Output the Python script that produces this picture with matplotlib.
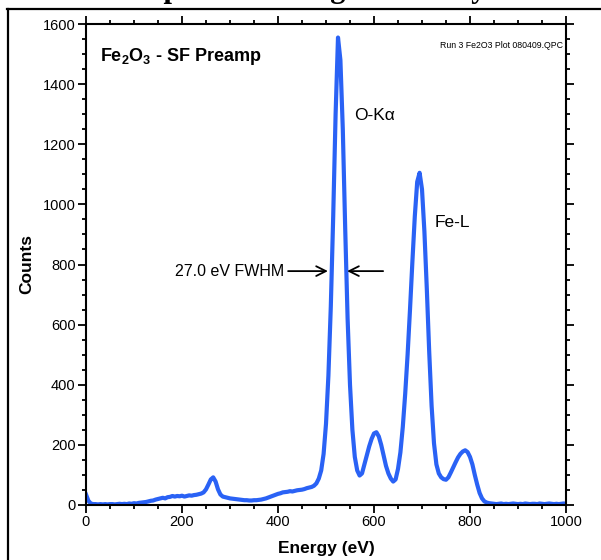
import matplotlib
matplotlib.use("Agg")
import matplotlib.pyplot as plt
from matplotlib.lines import Line2D
from matplotlib.ticker import MultipleLocator

plt.rcParams['font.family'] = ['Liberation Sans', 'DejaVu Sans']
plt.rcParams['mathtext.fontset'] = 'custom'
plt.rcParams['mathtext.rm'] = 'Liberation Sans'
plt.rcParams['mathtext.bf'] = 'Liberation Sans:bold'

# spectrum, 5 eV per point
energy = list(range(0, 1001, 5))
counts = [
    35, 14, 5, 3, 3, 2, 3, 2, 3, 2,            # 0-45
    3, 3, 2, 3, 4, 3, 4, 3, 5, 4,              # 50-95
    6, 5, 7, 8, 9, 10, 12, 14, 15, 18,         # 100-145
    20, 22, 24, 22, 26, 27, 30, 28, 30, 29,    # 150-195
    31, 28, 30, 32, 31, 33, 34, 36, 38, 42,    # 200-245
    52, 68, 85, 92, 78, 52, 35, 28, 26, 24,    # 250-295
    22, 21, 20, 19, 18, 17, 16, 16, 15, 15,    # 300-345
    16, 16, 17, 18, 20, 22, 25, 28, 31, 34,    # 350-395
    37, 39, 42, 43, 44, 46, 45, 47, 49, 50,    # 400-445
    51, 53, 56, 58, 60, 64, 72, 88, 115, 170,  # 450-495
    270, 430, 660, 960, 1300, 1555, 1480, 1250, 920, 620,   # 500-545
    400, 250, 160, 115, 98, 105, 135, 165, 195, 220,        # 550-595
    238, 242, 228, 200, 165, 130, 105, 88, 78, 85,          # 600-645
    120, 175, 260, 370, 500, 650, 810, 960, 1075, 1105,     # 650-695
    1050, 910, 720, 510, 330, 205, 135, 105, 92, 86,        # 700-745
    84, 92, 108, 125, 142, 158, 170, 178, 182, 176,         # 750-795
    160, 135, 100, 68, 40, 22, 12, 8, 6, 5,                 # 800-845
    4, 3, 4, 5, 3, 4, 3, 4, 5, 4,              # 850-895
    3, 4, 3, 5, 4, 3, 4, 4, 3, 5,              # 900-945
    4, 3, 4, 5, 4, 3, 4, 3, 4, 5,              # 950-995
    4,                                         # 1000
]

title = "Example data using new array"
label = r"$\mathbf{Fe_2O_3}$ - SF Preamp"
run_note = "Run 3 Fe2O3 Plot 080409.QPC"


def px_x(px):
    return px / 601.0


def px_y(py):
    return 1.0 - py / 560.0


fig = plt.figure(figsize=(6.01, 5.60), dpi=100)
ax = fig.add_axes([px_x(86), px_y(505), 480 / 601.0, 481 / 560.0])

ax.plot(energy, counts, color='#2a62f5', lw=3.0, solid_joinstyle='round')

ax.set_xlim(0, 1000)
ax.set_ylim(0, 1600)
ax.xaxis.set_major_locator(MultipleLocator(200))
ax.xaxis.set_minor_locator(MultipleLocator(50))
ax.yaxis.set_major_locator(MultipleLocator(200))
ax.yaxis.set_minor_locator(MultipleLocator(50))
ax.tick_params(which='both', direction='out', top=True, right=True,
               width=1.3, labelsize=10.5, colors='black')
ax.tick_params(which='major', length=5.5, pad=2)
ax.tick_params(which='minor', length=3)
for sp in ax.spines.values():
    sp.set_linewidth(1.5)

ax.set_xlabel("Energy (eV)", fontsize=12.5, fontweight='bold')
ax.set_ylabel("Counts", fontsize=12.5, fontweight='bold')
ax.xaxis.set_label_coords(0.5, -0.075)
ax.yaxis.set_label_coords(-0.107, 0.5)

ax.text(0.03, 0.955, label, transform=ax.transAxes, fontsize=13,
        fontweight='bold', ha='left', va='top')
ax.text(0.993, 0.965, run_note, transform=ax.transAxes, fontsize=6.3,
        ha='right', va='top')
ax.text(558, 1297, "O-K\u03b1", fontsize=12.5, ha='left', va='center')
ax.text(727, 941, "Fe-L", fontsize=12.5, ha='left', va='center')

ax.text(414, 778, "27.0 eV FWHM", fontsize=11.5, ha='right', va='center')
arrow = dict(arrowstyle='->,head_length=0.7,head_width=0.35', lw=1.3,
             color='black', shrinkA=0, shrinkB=0)
ax.annotate("", xy=(504, 778), xytext=(421, 778), arrowprops=arrow)
ax.annotate("", xy=(544, 778), xytext=(619, 778), arrowprops=arrow)

# title line sits above the crop, only the descenders show
fig.text(px_x(87), px_y(-2.5), title, fontfamily='Liberation Serif',
         fontweight='bold', fontsize=22, ha='left', va='baseline')

# outer frame (left and top edges only are inside the crop)
fig.add_artist(Line2D([px_x(7.5), px_x(7.5)], [0, px_y(9)], color='black',
                      lw=1.6, transform=fig.transFigure))
fig.add_artist(Line2D([px_x(6.8), 1.0], [px_y(9), px_y(9)], color='black',
                      lw=1.6, transform=fig.transFigure))

fig.savefig('out.png', dpi=100)
